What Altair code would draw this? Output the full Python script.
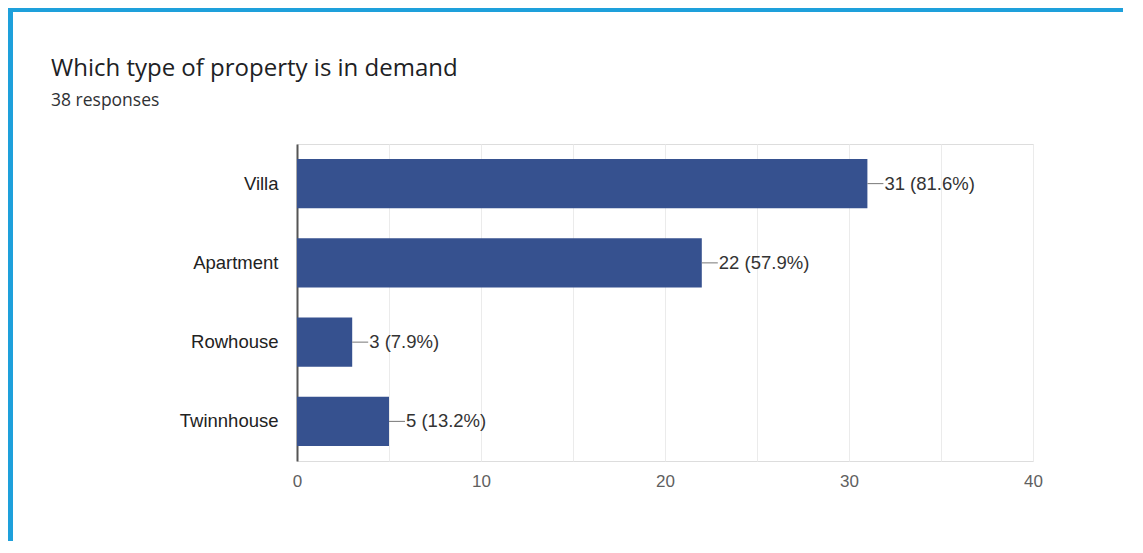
import altair as alt
import pandas as pd

categories = ["Villa", "Apartment", "Rowhouse", "Twinnhouse"]
counts = [31, 22, 3, 5]
percents = [81.6, 57.9, 7.9, 13.2]
x_ticks = [0, 5, 10, 15, 20, 25, 30, 35, 40]

df = pd.DataFrame({"cat": categories, "count": counts, "pct": percents})
df["label"] = [f"{c} ({p:.1f}%)" for c, p in zip(counts, percents)]

BAR = "#36518f"

base = alt.Chart(df)

y_enc = alt.Y(
    "cat:N",
    sort=categories,
    title=None,
    scale=alt.Scale(paddingInner=0.38, paddingOuter=0.19),
    axis=alt.Axis(
        domain=True, domainColor="#555555", domainWidth=2, ticks=False,
        labelFont="Liberation Sans", labelFontSize=18.5, labelColor="#222222",
        labelPadding=19, grid=False,
    ),
)
x_enc = alt.X(
    "count:Q",
    title=None,
    scale=alt.Scale(domain=[0, 40], nice=False),
    axis=alt.Axis(
        values=x_ticks, domain=False, ticks=False, grid=True, gridColor="#ebebeb",
        labelExpr="datum.value % 10 == 0 ? datum.label : ''",
        labelFlush=False,
        labelFont="Liberation Sans", labelFontSize=17, labelColor="#5f5f5f",
        labelPadding=12,
    ),
)

bars = base.mark_bar(color=BAR).encode(x=x_enc, y=y_enc)
leader = base.mark_rule(color="#777777", strokeWidth=1, x2Offset=16).encode(
    x="count:Q", x2="count:Q", y=alt.Y("cat:N", sort=categories, bandPosition=0.5)
)
texts = base.mark_text(
    align="left", baseline="middle", dx=17, font="Liberation Sans", fontSize=18.5, color="#333333"
).encode(x="count:Q", y=alt.Y("cat:N", sort=categories, bandPosition=0.5), text="label:N")

border_df = pd.DataFrame({"k": [0]})
left_border = alt.Chart(border_df).mark_rule(color="#1ea0db", strokeWidth=8).encode(
    x=alt.value(-288), y=alt.value(-140), y2=alt.value(420)
)
top_border = alt.Chart(border_df).mark_rule(color="#1ea0db", strokeWidth=8).encode(
    x=alt.value(-292), x2=alt.value(850), y=alt.value(-136)
)

chart = (
    alt.layer(bars, leader, texts, left_border, top_border)
    .properties(
        width=736,
        height=317,
        padding={"left": 289, "top": 136, "right": 90, "bottom": 80},
        autosize=alt.AutoSizeParams(type="none"),
        title=alt.TitleParams(
            text="Which type of property is in demand",
            subtitle="38 responses",
            anchor="start",
            frame="group",
            dx=-246,
            offset=-109,
            font="Open Sans",
            fontSize=24,
            fontWeight="normal",
            color="#202124",
            subtitleFont="Open Sans",
            subtitleFontSize=17.5,
            subtitleColor="#303134",
            subtitlePadding=11,
        ),
    )
    .configure_view(stroke="#ebebeb")
    .configure(background="white")
)

chart.save("out.html", embed_options={"renderer": "svg", "actions": False})
